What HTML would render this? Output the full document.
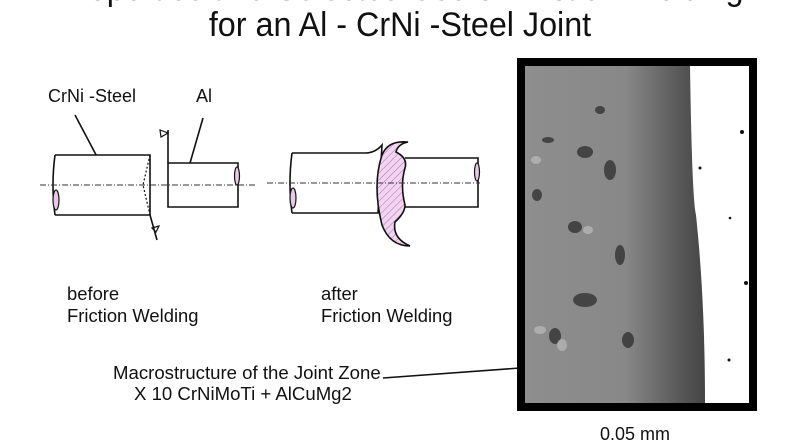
<!DOCTYPE html>
<html><head><style>
body{margin:0;width:800px;height:445px;background:#fff;overflow:hidden;font-family:"Liberation Sans",sans-serif}
.t{position:absolute;white-space:nowrap;color:#111}
</style></head><body>
<div class="t" style="left:0;width:800px;text-align:center;top:-30px;font-size:34px;transform:scaleX(0.95)">Properties and Selected Use of Friction Welding</div>
<div class="t" style="left:0;width:800px;text-align:center;top:6px;font-size:34px;transform:scaleX(0.95)">for an Al - CrNi -Steel Joint</div>
<div class="t" style="left:48px;top:86px;font-size:18px">CrNi -Steel</div>
<div class="t" style="left:196px;top:86px;font-size:18px">Al</div>
<div class="t" style="left:67px;top:283px;font-size:18.4px;line-height:22px">before<br>Friction Welding</div>
<div class="t" style="left:321px;top:283px;font-size:18.4px;line-height:22px">after<br>Friction Welding</div>
<div class="t" style="left:113px;top:362px;font-size:18.6px;line-height:22px">Macrostructure of the Joint Zone</div>
<div class="t" style="left:134px;top:383px;font-size:18.6px;line-height:22px">X 10 CrNiMoTi + AlCuMg2</div>
<div class="t" style="left:600px;top:424px;font-size:18px">0.05 mm</div>
<svg width="800" height="445" style="position:absolute;left:0;top:0">
<defs><pattern id="h" width="5" height="5" patternUnits="userSpaceOnUse" patternTransform="rotate(45)"><rect width="5" height="5" fill="#f0d4f0"/><line x1="0" y1="0" x2="0" y2="5" stroke="#b070b0" stroke-width="1"/></pattern>
<linearGradient id="g" x1="0" x2="1"><stop offset="0" stop-color="#8e8e8e"/><stop offset="0.45" stop-color="#888"/><stop offset="0.7" stop-color="#555"/><stop offset="1" stop-color="#222"/></linearGradient></defs>
<g stroke="#111" stroke-width="1.6" fill="none">
<line x1="75" y1="115" x2="103" y2="168"/><line x1="203" y1="118" x2="188" y2="170"/>
<path d="M55 155 H150 V215 H55" fill="#fff"/>
<path d="M55 155 Q51 185 55 215"/>
<ellipse cx="56" cy="200" rx="3" ry="10" fill="#e8c8e8" stroke-width="1.2"/>
<path d="M150 155 L143 185 L150 215" stroke-dasharray="2,2" stroke-width="1.2"/>
<line x1="150" y1="215" x2="157" y2="240"/>
<path d="M152 228 l7 -2 l-3 6z" stroke-width="1.2"/>
<line x1="168" y1="130" x2="168" y2="163"/>
<path d="M160 130 l8 3 l-7 4z" stroke-width="1.2"/>
<path d="M168 163 H238 V207 H168 Z" fill="#fff"/>
<ellipse cx="237" cy="176" rx="2.5" ry="9" fill="#e8c8e8" stroke-width="1.2"/>
<path d="M292 153 H365 Q375 153 382 145 L378 213 Q372 213 365 213 H292" fill="#fff"/>
<path d="M292 153 Q288 183 292 213"/>
<ellipse cx="293" cy="198" rx="3" ry="10" fill="#e8c8e8" stroke-width="1.2"/>
<path d="M405 158 H478 V207 H405" fill="#fff"/>
<ellipse cx="477" cy="172" rx="2.5" ry="9" fill="#e8c8e8" stroke-width="1.2"/>
<path d="M408 142 Q388 140 382 155 Q372 185 382 225 Q390 246 410 246 Q392 238 395 222 Q405 213 405 205 Q400 185 405 168 Q408 158 396 152 Q398 144 408 142Z" fill="url(#h)"/>
<line x1="383" y1="378" x2="520" y2="368"/>
</g>
<g stroke="#333" stroke-width="1" stroke-dasharray="6,2,1,2">
<line x1="40" y1="185" x2="255" y2="185"/><line x1="267" y1="183" x2="480" y2="183"/>
</g>
<rect x="521" y="62" width="232" height="345" fill="url(#g)" stroke="#000" stroke-width="8"/>
<path d="M690 66 Q692 200 696 215 Q705 300 705 403 H749 V66Z" fill="#fff"/>
<g fill="#333" opacity="0.8">
<ellipse cx="585" cy="152" rx="8" ry="6"/><ellipse cx="548" cy="140" rx="6" ry="3"/><ellipse cx="575" cy="227" rx="7" ry="6"/><ellipse cx="585" cy="300" rx="12" ry="7"/><ellipse cx="555" cy="336" rx="6" ry="8"/><ellipse cx="610" cy="170" rx="6" ry="10"/><ellipse cx="620" cy="255" rx="5" ry="10"/><ellipse cx="628" cy="340" rx="6" ry="8"/><ellipse cx="537" cy="195" rx="5" ry="6"/><ellipse cx="600" cy="110" rx="5" ry="4"/>
</g>
<g fill="#bbb" opacity="0.7"><ellipse cx="540" cy="330" rx="6" ry="4"/><ellipse cx="562" cy="345" rx="5" ry="6"/><ellipse cx="536" cy="160" rx="5" ry="4"/><ellipse cx="588" cy="230" rx="5" ry="4"/></g>
<g fill="#111"><circle cx="742" cy="132" r="2"/><circle cx="700" cy="168" r="1.5"/><circle cx="746" cy="283" r="2"/><circle cx="730" cy="218" r="1.3"/><circle cx="729" cy="360" r="1.5"/></g>
</svg>
</body></html>
